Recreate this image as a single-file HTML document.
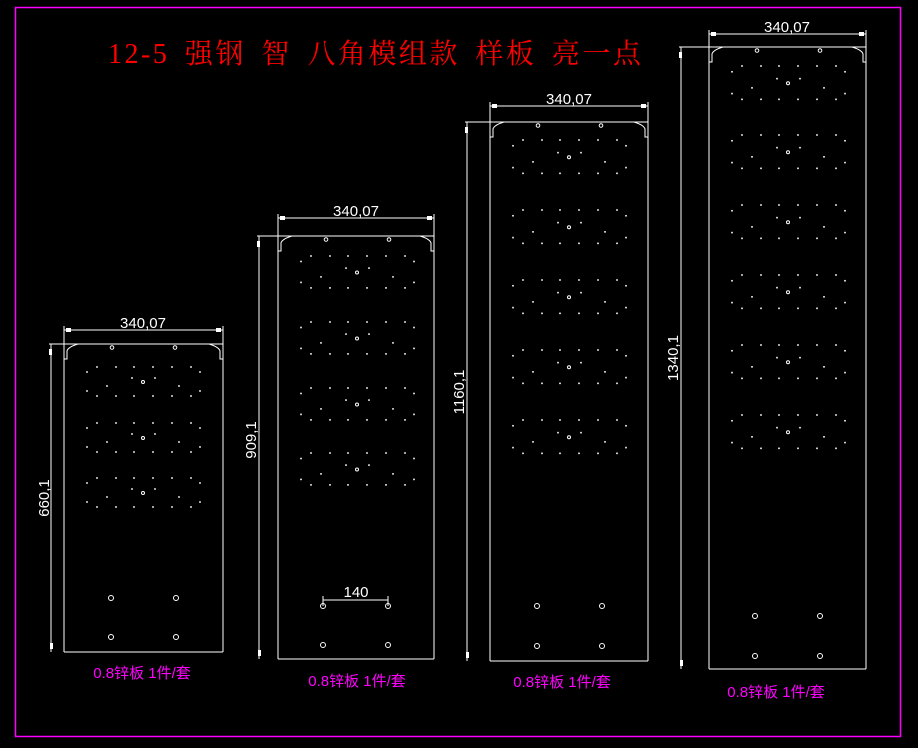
<!DOCTYPE html>
<html><head><meta charset="utf-8"><style>
html,body{margin:0;padding:0;background:#000;width:918px;height:748px;overflow:hidden}
svg{display:block}
</style></head><body>
<svg id="s" width="918" height="748" xmlns="http://www.w3.org/2000/svg">
<rect x="15.5" y="7.5" width="885" height="729" fill="none" stroke="#ff00ff" stroke-width="1.5"/>
<text x="108" y="63" fill="#ff0000" font-family="'Liberation Serif','Noto Serif CJK SC',serif" font-size="28" letter-spacing="2.5" word-spacing="6">12-5 强钢 智 八角模组款 样板 亮一点</text>
<g id="g" stroke="#fff" stroke-width="1" fill="none"></g>
<g font-family="'Liberation Sans','Noto Sans CJK SC',sans-serif" font-size="15" fill="#fff">
<text x="143" y="328" text-anchor="middle">340,07</text>
<text x="356" y="216" text-anchor="middle">340,07</text>
<text x="569" y="104" text-anchor="middle">340,07</text>
<text x="787" y="32" text-anchor="middle">340,07</text>
<text x="356" y="597" text-anchor="middle">140</text>
<text transform="translate(49,498) rotate(-90)" text-anchor="middle">660,1</text>
<text transform="translate(256,440) rotate(-90)" text-anchor="middle">909,1</text>
<text transform="translate(464,392) rotate(-90)" text-anchor="middle">1160,1</text>
<text transform="translate(678,358) rotate(-90)" text-anchor="middle">1340,1</text>
</g>
<g font-family="'Liberation Sans','Noto Sans CJK SC',sans-serif" font-size="15" fill="#ff00ff" text-anchor="middle">
<text x="142" y="678">0.8锌板 1件/套</text>
<text x="357" y="686">0.8锌板 1件/套</text>
<text x="562" y="687">0.8锌板 1件/套</text>
<text x="776" y="697">0.8锌板 1件/套</text>
</g>
</svg>
<script>
var g=document.getElementById('g'),NS='http://www.w3.org/2000/svg';
function el(t,a){var e=document.createElementNS(NS,t);for(var k in a)e.setAttribute(k,a[k]);g.appendChild(e);return e;}
function L(x1,y1,x2,y2){el('line',{x1:x1,y1:y1,x2:x2,y2:y2});}
function dot(x,y){el('rect',{x:x-0.8,y:y-0.8,width:1.6,height:1.6,fill:'#fff',stroke:'none'});}
function circ(x,y,r){el('circle',{cx:x,cy:y,r:r});}
var P=[
 {l:64,r:223,top:344,bot:652,dim:330,vx:51,groups:[367,423,478],sp:1,holes:[598,637],hx:[111,176]},
 {l:278,r:434,top:236,bot:659,dim:218,vx:259,groups:[256,322,388,453],sp:1.1,holes:[606,645],hx:[323,388]},
 {l:490,r:648,top:122,bot:661,dim:106,vx:467,groups:[140,210,280,350,420],sp:1.15,holes:[606,646],hx:[537,602]},
 {l:709,r:866,top:47,bot:669,dim:34,vx:681,groups:[66,135,205,275,345,415],sp:1.15,holes:[616,656],hx:[755,820]}
];
P.forEach(function(p){
 var l=p.l,r=p.r,t=p.top;
 L(l,p.dim-4,l,p.bot);L(r,p.dim-4,r,p.bot);L(l,p.bot,r,p.bot);
 L(l,p.dim,r,p.dim);
 el('rect',{x:l+2,y:p.dim-2,width:5,height:4,fill:'#fff',stroke:'none'});
 el('rect',{x:r-7,y:p.dim-2,width:5,height:4,fill:'#fff',stroke:'none'});
 L(p.vx-2,t,l+14,t);L(r-14,t,r,t);L(l+14,t,r-14,t);
 el('path',{d:'M'+(l+14)+' '+t+' Q'+(l+4)+' '+(t+3)+' '+(l+3)+' '+(t+7)+' L'+(l+3)+' '+(t+15)+' L'+l+' '+(t+15)});
 el('path',{d:'M'+(r-14)+' '+t+' Q'+(r-4)+' '+(t+3)+' '+(r-3)+' '+(t+7)+' L'+(r-3)+' '+(t+15)+' L'+r+' '+(t+15)});
 L(p.vx,t,p.vx,p.bot);
 el('rect',{x:p.vx-2,y:t+5,width:3,height:6,fill:'#fff',stroke:'none'});
 el('rect',{x:p.vx-1,y:p.bot-9,width:3,height:6,fill:'#fff',stroke:'none'});
 circ(l+48,t+3.5,1.8);circ(l+111,t+3.5,1.8);
 p.groups.forEach(function(y){
  var s=p.sp;
  [33,52,70,89,108,127].forEach(function(o){dot(l+o,y);dot(l+o,y+29*s);});
  dot(l+23,y+5*s);dot(l+136,y+5*s);dot(l+23,y+24*s);dot(l+136,y+24*s);
  dot(l+43,y+19*s);dot(l+115,y+19*s);dot(l+68,y+11*s);dot(l+91,y+11*s);
  circ(l+79,y+15*s,1.5);
 });
 p.hx.forEach(function(x){p.holes.forEach(function(y){circ(x,y,2.5);});});
});
L(323,600,388,600);L(323,596,323,606);L(388,596,388,606);
</script>
</body></html>
